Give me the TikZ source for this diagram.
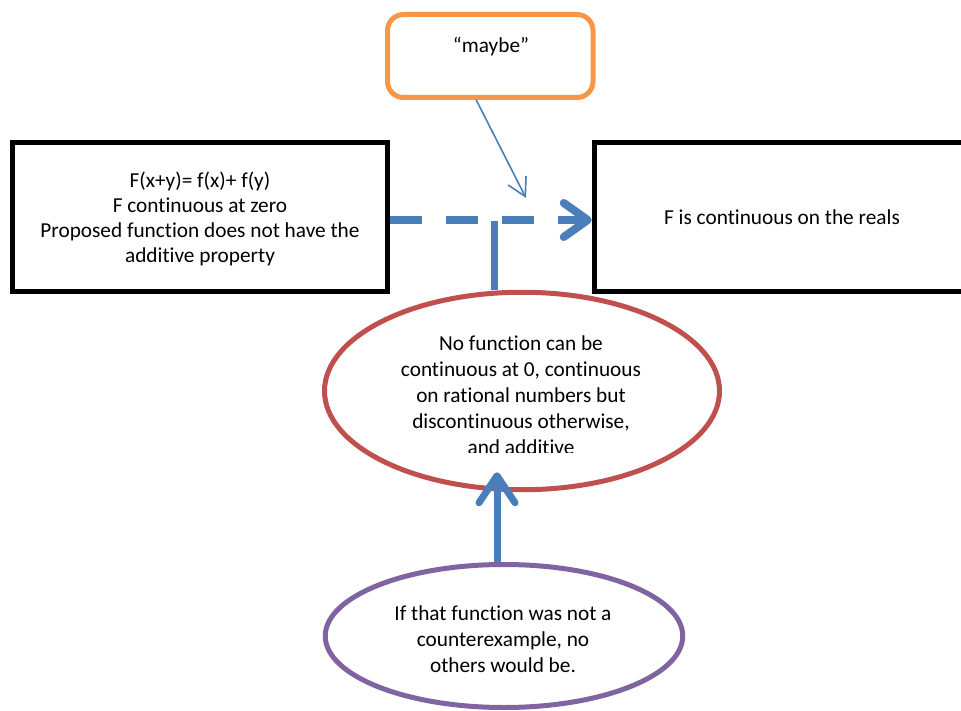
\documentclass[tikz,border=0pt]{standalone}
\usepackage{fontspec}
\setmainfont{Carlito}[Ligatures=CommonOff]
\usetikzlibrary{shapes.geometric,arrows.meta}

\definecolor{flowblue}{HTML}{4A7EBB}
\definecolor{boxorange}{HTML}{F79646}
\definecolor{ovalred}{HTML}{C0504D}
\definecolor{ovalpurple}{HTML}{8064A2}

\tikzset{
  txt/.style={font=\fontsize{21.3}{24.8}\selectfont, align=center, inner sep=0pt, text=black},
  txtwide/.style={txt, font=\fontsize{21.3}{26}\selectfont},
  plainbox/.style={draw=black, line width=5.5pt, rectangle, inner sep=0pt,
                   minimum width=375pt, minimum height=149pt},
  notebox/.style={draw=boxorange, line width=5pt, rounded corners=16pt, inner sep=0pt,
                  minimum width=205.5pt, minimum height=83pt},
  redoval/.style={draw=ovalred, line width=5pt, ellipse, inner sep=0pt,
                  minimum width=395pt, minimum height=197.5pt},
  purpleoval/.style={draw=ovalpurple, line width=5pt, ellipse, inner sep=0pt,
                     minimum width=357.5pt, minimum height=143pt},
  bigflow/.style={draw=flowblue, line width=8pt,
                  -{Straight Barb[length=24pt,width=34pt,line cap=round,line join=round]}},
  upflow/.style={draw=flowblue, line width=7pt,
                  -{Straight Barb[length=27pt,width=36pt,line cap=round,line join=round]}},
  thinflow/.style={draw=flowblue, line width=1.6pt,
                   -{Straight Barb[length=18pt,width=20pt]}},
}

\begin{document}
\begin{tikzpicture}[x=1pt,y=-1pt]
  \useasboundingbox (0,0) rectangle (961,711);
  \clip (0,0) rectangle (961,711);

  % boxes
  \node[notebox] (maybe) at (490.25,56) {};
  \node[txt] (maybetext) at (491,47) {“maybe”};

  \node[plainbox] (hyp) at (200,217) {};
  \node[txt] (hyptext) at (200,219) {F(x+y)= f(x)+ f(y)\\F continuous at zero\\Proposed function does not have the\\additive property};

  \node[plainbox] (concl) at (782,217) {};
  \node[txt] (concltext) at (782,217) {F is continuous on the reals};

  % ovals
  \node[redoval] (claim) at (522,391) {};
  \begin{scope}
    \clip (300,300) rectangle (740,452);
    \node[txtwide] (claimtext) at (521,395) {No function can be\\continuous at 0, continuous\\on rational numbers but\\discontinuous otherwise,\\and additive};
  \end{scope}

  \node[purpleoval] (other) at (504,636) {};
  \node[txtwide] (othertext) at (503,639) {If that function was not a\\counterexample, no\\others would be.};

  % connectors
  \draw[bigflow, dash pattern=on 32pt off 24pt] ([yshift=-3pt]hyp.east) -- ([yshift=-3pt]concl.west);

  \coordinate (tjoin) at (494.5,221);
  \draw[flowblue, line width=7pt] (tjoin) -- (tjoin |- claim.north);

  \coordinate (maybetip) at (526,198);
  \draw[thinflow] ([xshift=-14pt]maybe.south) -- (maybetip);

  \coordinate (upstart) at ([xshift=-7pt]other.north);
  \path (upstart |- claim.south) ++(0,-20) coordinate (uptip);
  \draw[upflow] (upstart) -- (uptip);
\end{tikzpicture}
\end{document}
